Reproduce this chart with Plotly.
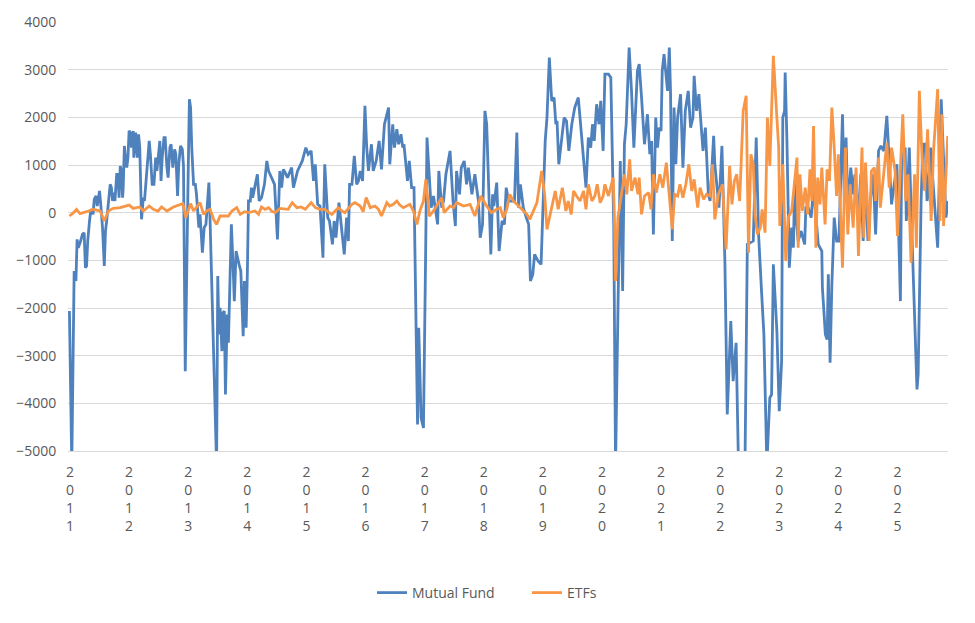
import plotly.graph_objects as go

# ---- Mutual Fund (decimal year, value) ----
mf_year = [
    2010.99, 2011.03, 2011.07, 2011.10, 2011.12, 2011.14, 2011.18, 2011.21, 2011.24, 2011.26,
    2011.28, 2011.30, 2011.33, 2011.35, 2011.37, 2011.39, 2011.41, 2011.44, 2011.46, 2011.50,
    2011.52, 2011.55, 2011.58, 2011.60, 2011.62, 2011.65, 2011.68, 2011.70, 2011.72, 2011.74,
    2011.76, 2011.79, 2011.81, 2011.83, 2011.85, 2011.87, 2011.89, 2011.90, 2011.92, 2011.94,
    2011.96, 2011.98, 2012.00, 2012.02, 2012.04, 2012.07, 2012.08, 2012.11, 2012.14, 2012.16,
    2012.18, 2012.21, 2012.24, 2012.26, 2012.29, 2012.31, 2012.34, 2012.36, 2012.39, 2012.42,
    2012.45, 2012.47, 2012.49, 2012.52, 2012.54, 2012.56, 2012.59, 2012.61, 2012.64, 2012.66,
    2012.69, 2012.71, 2012.74, 2012.77, 2012.79, 2012.82, 2012.84, 2012.87, 2012.90, 2012.92,
    2012.95, 2012.97, 2013.00, 2013.02, 2013.04, 2013.06, 2013.09, 2013.12, 2013.14, 2013.18,
    2013.20, 2013.24, 2013.27, 2013.30, 2013.35, 2013.37,
    2013.41, 2013.44, 2013.48, 2013.50, 2013.52, 2013.54, 2013.57, 2013.59, 2013.61, 2013.63,
    2013.66, 2013.68, 2013.70, 2013.73, 2013.76, 2013.78, 2013.81, 2013.84, 2013.86, 2013.89,
    2013.93, 2013.95, 2013.98, 2014.00, 2014.02, 2014.05, 2014.07, 2014.09, 2014.15, 2014.17,
    2014.20, 2014.24, 2014.29, 2014.33, 2014.36, 2014.41, 2014.46, 2014.51, 2014.55, 2014.58,
    2014.61, 2014.64, 2014.68, 2014.75, 2014.78, 2014.85, 2014.93, 2014.99, 2015.03, 2015.08,
    2015.12, 2015.15, 2015.19, 2015.23, 2015.28, 2015.29, 2015.31, 2015.36, 2015.39, 2015.44,
    2015.47, 2015.50, 2015.55, 2015.64, 2015.68, 2015.71, 2015.73, 2015.77, 2015.81,
    2015.85, 2015.88, 2015.91, 2015.95, 2015.99, 2016.02, 2016.05, 2016.08, 2016.10, 2016.13,
    2016.18, 2016.23, 2016.27, 2016.32, 2016.39, 2016.41, 2016.46, 2016.49, 2016.53, 2016.56,
    2016.60, 2016.63, 2016.65, 2016.71, 2016.74, 2016.78, 2016.82, 2016.88, 2016.90, 2016.94,
    2016.98, 2017.01, 2017.04, 2017.07, 2017.11, 2017.15, 2017.22, 2017.24, 2017.27, 2017.29,
    2017.32, 2017.36, 2017.43, 2017.48, 2017.52, 2017.54, 2017.59, 2017.62, 2017.67, 2017.71,
    2017.74, 2017.80, 2017.85, 2017.91, 2017.94, 2017.98, 2018.02, 2018.05, 2018.12, 2018.15,
    2018.17, 2018.22, 2018.26,
    2018.31, 2018.35, 2018.38, 2018.42, 2018.47, 2018.52, 2018.56, 2018.59, 2018.62, 2018.67,
    2018.72, 2018.76, 2018.79, 2018.83, 2018.86, 2018.92, 2018.97, 2018.99, 2019.04, 2019.07,
    2019.11, 2019.15, 2019.19, 2019.22, 2019.24, 2019.27, 2019.32, 2019.36, 2019.40, 2019.44,
    2019.49, 2019.54, 2019.60, 2019.65, 2019.73, 2019.77, 2019.81, 2019.84, 2019.87, 2019.91,
    2019.95, 2019.98, 2020.02, 2020.05, 2020.11, 2020.15, 2020.18, 2020.20, 2020.23, 2020.27,
    2020.28, 2020.31, 2020.35, 2020.38, 2020.41, 2020.46, 2020.50, 2020.54, 2020.60, 2020.63,
    2020.67, 2020.72,
    2020.77, 2020.81, 2020.84, 2020.87, 2020.91, 2020.94, 2020.97, 2021.00, 2021.02, 2021.05,
    2021.11, 2021.14, 2021.16, 2021.19, 2021.22, 2021.25, 2021.28, 2021.33, 2021.37, 2021.41,
    2021.46, 2021.50, 2021.54, 2021.56, 2021.60, 2021.64, 2021.66, 2021.71, 2021.75, 2021.80,
    2021.83, 2021.89, 2021.91, 2021.98, 2022.03, 2022.08, 2022.12, 2022.18, 2022.22, 2022.27,
    2022.31, 2022.42, 2022.46, 2022.56, 2022.61, 2022.65, 2022.70, 2022.74, 2022.79, 2022.84,
    2022.87, 2022.90, 2022.96, 2023.00, 2023.04, 2023.06, 2023.09, 2023.10, 2023.13, 2023.17,
    2023.21, 2023.24, 2023.26, 2023.28, 2023.32, 2023.37, 2023.43, 2023.45, 2023.49, 2023.54,
    2023.58, 2023.62, 2023.66, 2023.72, 2023.73, 2023.78, 2023.81, 2023.83, 2023.86, 2023.89,
    2023.93, 2023.97, 2024.01, 2024.07, 2024.10, 2024.13, 2024.16, 2024.21, 2024.25, 2024.28,
    2024.34, 2024.38, 2024.42, 2024.46, 2024.50, 2024.54, 2024.59, 2024.63, 2024.68, 2024.72,
    2024.77, 2024.82, 2024.85, 2024.90, 2024.99, 2025.05, 2025.07, 2025.13, 2025.15, 2025.20,
    2025.23, 2025.27, 2025.33, 2025.35, 2025.40, 2025.43, 2025.47, 2025.50, 2025.52, 2025.56,
    2025.59, 2025.68, 2025.74, 2025.78, 2025.82, 2025.86,
]
mf_value = [
    -2065, -5300, -1225, -1435, -560, -735, -595, -455, -420, -1155,
    -1120, -595, -175, 35, 70, -35, 280, 350, 140, 455,
    175, -315, -1120, -385, -175, 175, 595, 525, 245, 420,
    245, 805, 805, 315, 980, 875, 315, 525, 1400, 1120,
    945, 1155, 1715, 1680, 1365, 1715, 1155, 1680, 1155, 1645,
    1365, -140, 315, 245, 805, 1085, 1505, 1225, 595, 595,
    1155, 875, 1085, 1505, 665, 1155, 1575, 1575, 945, 735,
    1365, 1435, 945, 1330, 1225, 350, 1015, 1400, 1330, 980,
    -3325, -1085, 875, 2380, 2205, 1365, 595, 595, 385, -315,
    -35, -840, -315, -245, 630, -175,
    -2135, -3185, -5300, -1330, -2555, -1995, -2905, -2100, -2065, -3815,
    -2135, -2730, -1925, -245, -1155, -1855, -805, -1015, -1085, -1225,
    -2590, -1435, -2415, -1295, 245, 245, 525, 315, 735, 805,
    245, 315, 595, 1085, 875, 735, 595, -560, 875, 525,
    910, 840, 735, 945, 525, 875, 1085, 1365, 1225, 1295,
    665, 1015, 175, 140, -945, -175, 1015, -105, -175, -665,
    -175, -525, 210, -875, -105, -595, 595, 595, 1190,
    595, 665, 875, 665, 2240, 1365, 875, 1155, 1435, 875,
    1085, 1505, 910, 1855, 2205, 1015, 1855, 1365, 1750, 1435,
    1645, 1365, 1435, 665, 1085, 525, 525, -4445, -2415, -4305,
    -4515, -1575, 1575, 945, 105, 350, -245, 875, 385, 105,
    245, 805, 1295, 245, -280, 875, 385, 945, 1085, 595,
    945, 385, 805, 245, -525, -245, 2135, 1855, -875, 385,
    140, 630, -805,
    -175, -245, 525, 245, 245, 245, 1680, 105, 595, 105,
    -105, -245, -1435, -1295, -875, -1015, -1085, -455, 1505, 1995,
    3255, 2345, 2415, 1855, 1925, 1015, 1505, 1995, 1925, 1295,
    1855, 2205, 2415, 1715, 525, 1575, 1365, 1855, 1505, 2275,
    1855, 2345, 1295, 2905, 2905, 2835, 805, -315, -5300, -2485,
    -1575, 1085, -1645, 1435, 1855, 3465, 2555, 1365, 2975, 3115,
    2415, 1435,
    2065, 1225, 1505, -455, 1995, 1365, 1785, 1715, 2975, 3325,
    2555, 3465, 2555, -595, 2205, 1015, 1995, 2485, 945, 2135,
    2555, 1785, 1995, 2870, 2135, 2485, 2135, 1295, 1785, 385,
    245, 1610, 1015, 105, 1400, -1015, -4235, -2275, -3535, -2730,
    -5300, -5300, -665, -595, 1575, -455, -1645, -2555, -5300, -3885,
    -3815, -1085, -2485, -4165, -3115, 1995, 2135, 2940, 1505, -1155,
    -315, -735, 665, -35, -595, -385, -665, 105, 105, -105,
    525, 0, -665, -805, -1575, -2555, -2660, -1295, -3150, -1505,
    -105, -595, -595, 2065, 315, 1575, 105, 945, 385, 805,
    -35, 805, -595, 665, -595, 245, 805, -455, 1295, 1400,
    1295, 2030, 1225, 175, 1015, -1855, 1085, 1365, -175, 1365,
    105, -1575, -3710, -3395, 245, 1435, 1435, 245, 385, 1365,
    875, -735, 2380, 1225, -105, 245,
]

# ---- ETFs (decimal year, value) ----
etf_year = [
    2010.99, 2011.06, 2011.11, 2011.17, 2011.28, 2011.39, 2011.51, 2011.58, 2011.65, 2011.73,
    2011.85, 2012.00, 2012.07, 2012.18, 2012.24, 2012.34, 2012.41, 2012.49, 2012.55, 2012.64,
    2012.75, 2012.91, 2012.96, 2013.04, 2013.09, 2013.14, 2013.20, 2013.26, 2013.31, 2013.37,
    2013.43, 2013.48, 2013.54, 2013.61, 2013.68, 2013.74, 2013.82, 2013.88, 2013.95, 2014.02,
    2014.13, 2014.19, 2014.24, 2014.30, 2014.36, 2014.41, 2014.47, 2014.55, 2014.63, 2014.69,
    2014.76, 2014.84, 2014.91, 2014.98, 2015.08, 2015.15, 2015.23, 2015.31, 2015.43, 2015.48,
    2015.54, 2015.60, 2015.65, 2015.77, 2015.82,
    2015.91, 2015.96, 2016.01, 2016.08, 2016.16, 2016.22, 2016.27, 2016.36, 2016.41, 2016.47,
    2016.53, 2016.58, 2016.64, 2016.70, 2016.75, 2016.81, 2016.87, 2016.92, 2016.98, 2017.02,
    2017.08, 2017.15, 2017.22, 2017.29, 2017.33, 2017.43, 2017.49, 2017.54, 2017.66, 2017.77,
    2017.85, 2017.95, 2018.05, 2018.13, 2018.22, 2018.28,
    2018.33, 2018.39, 2018.44, 2018.50, 2018.59, 2018.67, 2018.73, 2018.78, 2018.84, 2018.90,
    2018.98, 2019.03, 2019.07, 2019.12, 2019.21, 2019.26, 2019.33, 2019.39, 2019.43, 2019.48,
    2019.52, 2019.57, 2019.63, 2019.69, 2019.73, 2019.77, 2019.83, 2019.88, 2019.92, 2019.97,
    2020.02, 2020.05, 2020.11, 2020.19, 2020.21, 2020.23, 2020.27, 2020.30, 2020.38, 2020.42,
    2020.47, 2020.50, 2020.56, 2020.61, 2020.63, 2020.67, 2020.72,
    2020.79, 2020.83, 2020.87, 2020.92, 2020.98, 2021.03, 2021.09, 2021.12, 2021.19, 2021.23,
    2021.28, 2021.32, 2021.37, 2021.42, 2021.47, 2021.52, 2021.56, 2021.62, 2021.66, 2021.72,
    2021.77, 2021.83, 2021.87, 2021.91, 2021.97, 2022.04, 2022.10, 2022.16, 2022.20, 2022.24,
    2022.28, 2022.33, 2022.37, 2022.39, 2022.44, 2022.48, 2022.52, 2022.56, 2022.59, 2022.63,
    2022.68, 2022.71, 2022.76, 2022.80, 2022.84, 2022.90, 2022.96, 2022.99, 2023.01, 2023.06,
    2023.11, 2023.15,
    2023.21, 2023.30, 2023.32, 2023.35, 2023.39, 2023.44, 2023.48, 2023.52, 2023.55, 2023.58,
    2023.62, 2023.65, 2023.69, 2023.72, 2023.775, 2023.81, 2023.85, 2023.89, 2023.93, 2023.97,
    2024.00, 2024.07, 2024.12, 2024.16, 2024.20, 2024.25, 2024.30, 2024.34, 2024.40, 2024.43,
    2024.46, 2024.52, 2024.56, 2024.61, 2024.63, 2024.68, 2024.71, 2024.76, 2024.82, 2024.86,
    2024.90, 2024.96, 2025.00, 2025.04, 2025.09, 2025.14, 2025.18, 2025.23, 2025.29, 2025.32,
    2025.37, 2025.42, 2025.46, 2025.51, 2025.57, 2025.61, 2025.68, 2025.72, 2025.75, 2025.78,
    2025.85,
]
etf_value = [
    -70, 0, 70, -20, 20, 70, 35, -175, 35, 90,
    105, 160, 90, 120, 35, 140, 70, 35, 120, 35,
    120, 190, -105, 190, 35, 105, 210, -35, 35, 70,
    -140, -245, -70, -70, -70, 35, 105, -35, 20, 0,
    35, -35, 120, 70, 105, 35, 0, 90, 70, 70,
    210, 105, 120, 70, 210, 105, 70, 70, -35, 35,
    105, 35, 0, 175, 210,
    140, 20, 315, 105, 140, 70, -70, 210, 140, 175,
    245, 160, 105, 140, 175, 35, -245, 35, 245, 700,
    -70, 35, 175, 315, 0, 140, 105, 210, 140, 175,
    -70, 350, 140, 0, 70, 105,
    -105, 70, 385, 245, 140, 35, -35, -140, 35, 210,
    875, 385, -350, -35, 455, 70, 525, 35, 245, -35,
    455, 350, 245, 455, 70, 595, 245, 350, 595, 210,
    350, 595, 350, 735, -35, -1435, -105, 140, 805, 385,
    1120, 455, 735, 385, 735, -35, 350,
    420, 70, 805, 420, 805, 525, 1050, 665, -350, 385,
    350, 595, 315, 595, 1015, 455, 700, 105, 525, 280,
    385, 350, 1015, -140, 385, 595, -770, 980, 175, 665,
    805, 245, 1505, 2135, 2450, -840, 1225, 1015, -35, -455,
    -315, 70, -420, 1995, 980, 3290, 1995, 1365, -280, 1015,
    -1015, -105,
    35, 1155, -735, 805, 35, 525, -35, 910, 245, 1820,
    -735, 735, 175, 945, -245, 910, 665, 2205, 1365, 350,
    1225, -1155, 1365, -455, 595, -315, 945, -910, 1365, -525,
    1050, -595, 875, 945, 245, 1155, 105, 805, 1470, 525,
    1365, 875, -490, 665, 2065, 245, 805, -1050, 805, -735,
    2555, 1015, 455, 1750, -175, 1295, 2590, -175, 2065, -280,
    1610,
]

tick_years = list(range(2011, 2026))
tick_text = ["<br>".join(str(y)) for y in tick_years]

FONT = "Open Sans"
GREY = "#595959"

fig = go.Figure()
fig.add_trace(go.Scatter(x=mf_year, y=mf_value, mode="lines", name="Mutual Fund",
                         line=dict(color="#4F81BD", width=2.8)))
fig.add_trace(go.Scatter(x=etf_year, y=etf_value, mode="lines", name="ETFs",
                         line=dict(color="#F79646", width=2.8)))

# the page body adds an 8px offset, so size/margins compensate for it
fig.update_layout(
    width=959, height=607,
    margin=dict(l=60, r=19, t=14, b=164, autoexpand=False),
    paper_bgcolor="white", plot_bgcolor="white",
    font=dict(family=FONT, size=14, color=GREY),
    showlegend=True,
    legend=dict(orientation="h", x=(372 - 68) / 880, xanchor="left", y=-0.331, yanchor="middle",
                entrywidth=110, entrywidthmode="pixels",
                font=dict(family=FONT, size=14, color=GREY)),
    xaxis=dict(range=[2010.966, 2025.855], tickmode="array", tickvals=tick_years,
               ticktext=tick_text, showgrid=False, zeroline=False, automargin=False,
               showline=True, linecolor="#D9D9D9", linewidth=1,
               ticks="outside", ticklen=8, tickcolor="rgba(0,0,0,0)",
               tickfont=dict(family=FONT, size=14, color=GREY)),
    yaxis=dict(range=[-5000, 4000], dtick=1000, tick0=0, showgrid=True, automargin=False,
               gridcolor="#D9D9D9", gridwidth=1, zeroline=False, showline=False,
               ticks="outside", ticklen=8, tickcolor="rgba(0,0,0,0)",
               tickfont=dict(family=FONT, size=14, color=GREY)),
)

fig.write_html("out.html")
